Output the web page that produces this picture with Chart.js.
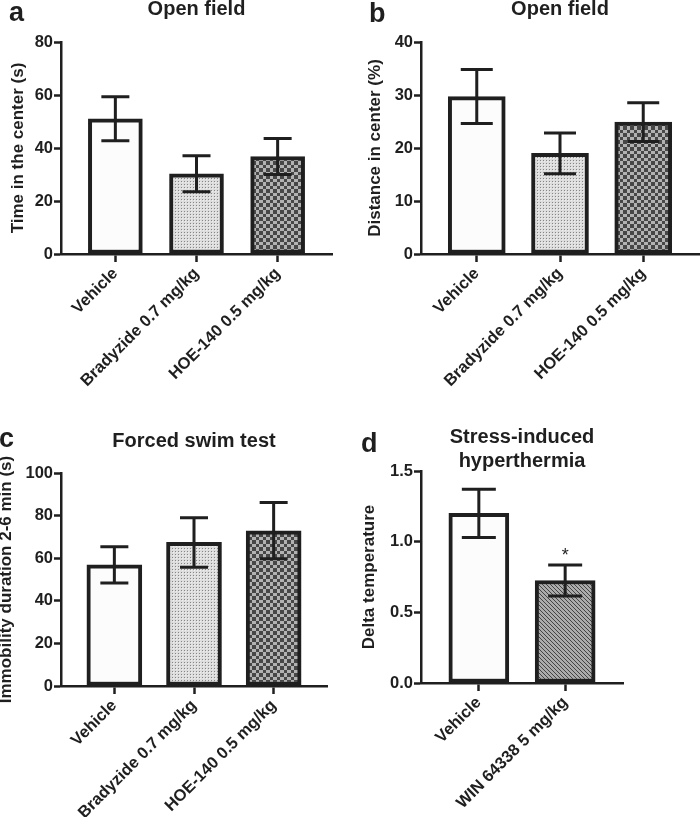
<!DOCTYPE html>
<html><head><meta charset="utf-8">
<script src="https://cdn.jsdelivr.net/npm/chart.js@4"></script>
<style>
html,body{margin:0;padding:0;background:#fff;width:700px;height:817px;overflow:hidden;position:relative}
canvas{position:absolute}
</style></head><body>
<canvas id="ca" width="350" height="400" style="left:0;top:0"></canvas>
<canvas id="cb" width="350" height="400" style="left:350px;top:0"></canvas>
<canvas id="cc" width="350" height="417" style="left:0;top:400px"></canvas>
<canvas id="cd" width="350" height="417" style="left:350px;top:400px"></canvas>
<script>
// ---- data ----
const groupsABC = ["Vehicle", "Bradyzide 0.7 mg/kg", "HOE-140 0.5 mg/kg"];
const groupsD = ["Vehicle", "WIN 64338 5 mg/kg"];
const timeCenterMean = [51, 30.3, 36.8];
const timeCenterSem = [8.3, 6.8, 6.8];
const distCenterMean = [29.7, 19.0, 24.9];
const distCenterSem = [5.1, 3.85, 3.65];
const immobilityMean = [56.9, 67.4, 72.9];
const immobilitySem = [8.5, 11.6, 13.2];
const deltaTempMean = [1.2, 0.725];
const deltaTempSem = [0.17, 0.11];
const deltaTempSig = ["", "*"];
const fillsABC = ["plain", "dots", "check"];
const fillsD = ["plain", "hatch"];

// ---- styling ----
const INK = '#1f1f1f';
const FAMILY = '"Liberation Sans", Arial, sans-serif';
Chart.defaults.font.family = FAMILY;
Chart.defaults.color = INK;

function makeFill(kind) {
  if (kind === 'plain') return '#fcfcfc';
  const c = document.createElement('canvas');
  const g = c.getContext('2d');
  if (kind === 'dots') {
    c.width = 3; c.height = 3;
    g.fillStyle = '#dddddd'; g.fillRect(0, 0, 3, 3);
    g.fillStyle = '#858585'; g.fillRect(1, 1, 1, 1);
    g.fillStyle = '#eeeeee'; g.fillRect(2, 2, 1, 1);
  } else if (kind === 'check') {
    c.width = 7; c.height = 7;
    g.fillStyle = '#b2b2b2'; g.fillRect(0, 0, 7, 7);
    g.fillStyle = '#474747'; g.fillRect(0, 0, 4, 4); g.fillRect(4, 4, 3, 3);
  } else if (kind === 'hatch') {
    c.width = 4; c.height = 4;
    g.fillStyle = '#ababab'; g.fillRect(0, 0, 4, 4);
    g.fillStyle = '#444444';
    for (let i = 0; i < 4; i++) g.fillRect(i, i, 1, 1);
  }
  return g.createPattern(c, 'repeat');
}

const errorBarPlugin = {
  id: 'errorBars',
  afterDatasetsDraw(chart, args, opts) {
    const {ctx, scales: {x, y}} = chart;
    ctx.save();
    ctx.strokeStyle = INK; ctx.lineWidth = 3; ctx.lineCap = 'butt';
    opts.means.forEach((m, i) => {
      const px = x.getPixelForValue(i);
      const top = y.getPixelForValue(m + opts.sem[i]);
      const bot = y.getPixelForValue(m - opts.sem[i]);
      const h = opts.cap / 2;
      ctx.beginPath();
      ctx.moveTo(px, top); ctx.lineTo(px, bot);
      ctx.moveTo(px - h, top); ctx.lineTo(px + h, top);
      ctx.moveTo(px - h, bot); ctx.lineTo(px + h, bot);
      ctx.stroke();
      if (opts.sig && opts.sig[i]) {
        ctx.fillStyle = INK;
        ctx.font = '18px ' + FAMILY;
        ctx.textAlign = 'center'; ctx.textBaseline = 'alphabetic';
        ctx.fillText(opts.sig[i], px, top - 4);
      }
    });
    ctx.restore();
  }
};

const panelTextPlugin = {
  id: 'panelText',
  afterDraw(chart, args, opts) {
    const {ctx, chartArea} = chart;
    ctx.save();
    ctx.fillStyle = INK; ctx.textBaseline = 'alphabetic';
    ctx.font = 'bold 27px ' + FAMILY; ctx.textAlign = 'left';
    ctx.fillText(opts.letter, opts.letterX, opts.letterY);
    ctx.font = 'bold 20px ' + FAMILY; ctx.textAlign = 'center';
    const cx = (chartArea.left + chartArea.right) / 2;
    opts.title.forEach((t, k) => ctx.fillText(t, cx, opts.titleY + k * 24));
    ctx.restore();
  }
};

function buildChart(id, o) {
  const el = document.getElementById(id);
  const W = el.width, H = el.height;
  const n = o.labels.length;
  return new Chart(el, {
    type: 'bar',
    data: {
      datasets: [{
        data: o.means.map((v, i) => ({x: i, y: v})),
        backgroundColor: o.fills.map(makeFill),
        borderColor: INK, borderWidth: 4, borderSkipped: false,
        barThickness: o.barW
      }]
    },
    options: {
      responsive: false, animation: false, devicePixelRatio: 1,
      layout: {padding: {left: 0, top: o.area.top, right: W - o.area.right, bottom: 0}},
      plugins: {
        legend: {display: false}, tooltip: {enabled: false}, title: {display: false},
        errorBars: {means: o.means, sem: o.sem, cap: o.cap, sig: o.sig},
        panelText: {letter: o.letter, letterX: o.letterX, letterY: o.letterY, title: o.title, titleY: o.titleY}
      },
      scales: {
        x: {
          type: 'linear', min: -0.67, max: n - 0.33, offset: false,
          afterBuildTicks: s => { s.ticks = o.labels.map((_, i) => ({value: i})); },
          afterFit: s => { s.height = H - o.area.bottom; },
          ticks: {
            autoSkip: false, minRotation: 45, maxRotation: 45, padding: 2,
            font: {size: 16.5, weight: 'bold'}, color: INK,
            callback: v => o.labels[v]
          },
          grid: {display: true, drawOnChartArea: false, offset: false, drawTicks: true, tickLength: 8, tickWidth: 2.5, color: INK},
          border: {display: true, color: INK, width: 2.5}
        },
        y: {
          min: 0, max: o.yMax,
          afterFit: s => { s.width = o.area.left; },
          ticks: {stepSize: o.yStep, padding: 1, font: {size: 16.5, weight: 'bold'}, color: INK,
                  callback: v => o.yDec ? v.toFixed(o.yDec) : v},
          grid: {display: true, drawOnChartArea: false, drawTicks: true, tickLength: 7, tickWidth: 2.5, color: INK},
          border: {display: true, color: INK, width: 2.5},
          title: {display: true, text: o.yTitle, font: {size: 17, weight: 'bold'}, color: INK, padding: {top: o.yTitlePad, bottom: 0}}
        }
      }
    },
    plugins: [errorBarPlugin, panelTextPlugin]
  });
}

buildChart('ca', {
  labels: groupsABC, means: timeCenterMean, sem: timeCenterSem, fills: fillsABC,
  yMax: 80, yStep: 20, yTitle: 'Time in the center (s)', yTitlePad: 7.9,
  area: {left: 61, top: 42, right: 332, bottom: 254}, barW: 54, cap: 28,
  letter: 'a', letterX: 9, letterY: 21, title: ['Open field'], titleY: 15
});
buildChart('cb', {
  labels: groupsABC, means: distCenterMean, sem: distCenterSem, fills: fillsABC,
  yMax: 40, yStep: 10, yTitle: 'Distance in center (%)', yTitlePad: 14.9,
  area: {left: 71, top: 42, right: 349, bottom: 254}, barW: 57, cap: 32,
  letter: 'b', letterX: 19, letterY: 22, title: ['Open field'], titleY: 15
});
buildChart('cc', {
  labels: groupsABC, means: immobilityMean, sem: immobilitySem, fills: fillsABC,
  yMax: 100, yStep: 20, yTitle: 'Immobility duration 2-6 min (s)', yTitlePad: -3.5,
  area: {left: 61, top: 73, right: 327, bottom: 286}, barW: 55, cap: 28,
  letter: 'c', letterX: -1, letterY: 47, title: ['Forced swim test'], titleY: 47
});
buildChart('cd', {
  labels: groupsD, means: deltaTempMean, sem: deltaTempSem, fills: fillsD, sig: deltaTempSig,
  yMax: 1.5, yStep: 0.5, yDec: 1, yTitle: 'Delta temperature', yTitlePad: 9.4,
  area: {left: 71, top: 71, right: 273, bottom: 283}, barW: 60, cap: 34,
  letter: 'd', letterX: 11, letterY: 52, title: ['Stress-induced', 'hyperthermia'], titleY: 43
});
</script>
</body></html>
